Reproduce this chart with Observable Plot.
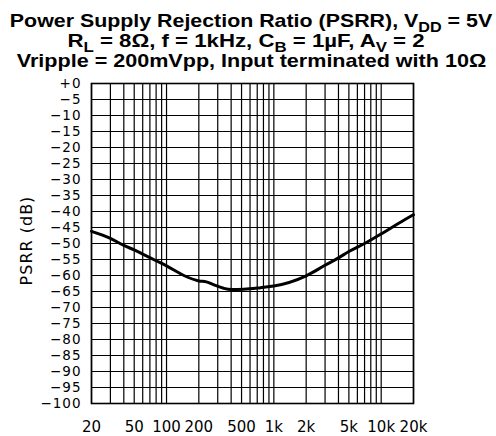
<!DOCTYPE html>
<html><head><meta charset="utf-8">
<script src="https://cdn.jsdelivr.net/npm/d3@7"></script>
<script src="https://cdn.jsdelivr.net/npm/@observablehq/plot@0.6"></script>
<style>
body{margin:0;background:#fff;}
#wrap{width:496px;height:436px;overflow:hidden;}
#title{height:72px;box-sizing:border-box;padding-top:10.5px;font-family:"Liberation Sans",Arial,sans-serif;font-weight:bold;font-size:18.5px;line-height:20px;text-align:center;color:#000;white-space:nowrap;}
#t1{transform:translateX(3px) scaleX(1.155);}
#t2{transform:translateX(-2px) scaleX(1.2);}
#t3{transform:translateX(3.5px) scaleX(1.165);}
.sub{font-size:14px;position:relative;top:5px;line-height:0;}
#chart svg{display:block;}
</style></head>
<body>
<div id="wrap">
<div id="title">
<div id="t1">Power Supply Rejection Ratio (PSRR), V<span class="sub">DD</span> = 5V</div>
<div id="t2">R<span class="sub">L</span> = 8Ω, f = 1kHz, C<span class="sub">B</span> = 1µF, A<span class="sub">V</span> = 2</div>
<div id="t3">Vripple = 200mVpp, Input terminated with 10Ω</div>
</div>
<div id="chart"></div>
</div>
<script>
const freq = [20, 30, 40, 50, 60, 80, 100, 145, 200, 235, 270, 340, 400, 526, 752, 1000, 2000, 3000, 4000, 5000, 7000, 10000, 14700, 20000];
const psrr = [-46.2, -48.4, -50.6, -52, -53.3, -55.4, -57, -60, -61.7, -62, -62.8, -64, -64.4, -64.3, -63.8, -63.3, -60.1, -56.8, -54.5, -52.5, -50, -47, -43.6, -41];

const xGrid = [20,30,40,50,60,70,80,90,100,200,300,400,500,600,700,800,900,1000,2000,3000,4000,5000,6000,7000,8000,9000,10000,20000];
const xTicks = [20,50,100,200,500,1000,2000,5000,10000,20000];
const xTickLabels = ["20","50","100","200","500","1k","2k","5k","10k","20k"];
const yTicks = [0,-5,-10,-15,-20,-25,-30,-35,-40,-45,-50,-55,-60,-65,-70,-75,-80,-85,-90,-95,-100];
const yTickLabels = ["+0","−5","−10","−15","−20","−25","−30","−35","−40","−45","−50","−55","−60","−65","−70","−75","−80","−85","−90","−95","−100"];
const yLabel = "PSRR (dB)";

const data = freq.map((f, i) => ({f, v: psrr[i]}));
const xLabelData = xTicks.map((t, i) => ({t, label: xTickLabels[i]}));

const chart = Plot.plot({
  width: 496,
  height: 364,
  marginTop: 11,
  marginBottom: 33,
  marginLeft: 91,
  marginRight: 83,
  style: {fontFamily: "DejaVu Sans", fontSize: "13.5px", background: "#fff", color: "#000", overflow: "visible", letterSpacing: "1px"},
  x: {type: "log", domain: [20, 20000], axis: null},
  y: {domain: [-100, 0]},
  marks: [
    Plot.ruleX(xGrid, {stroke: "#000", strokeWidth: 1.2, strokeOpacity: 1}),
    Plot.ruleY(yTicks, {stroke: "#000", strokeWidth: 1.2, strokeOpacity: 1}),
    Plot.frame({stroke: "#000", strokeWidth: 1.6}),
    Plot.text(xLabelData, {x: "t", text: "label", frameAnchor: "bottom", lineAnchor: "top", dy: 18, fontSize: 15}),
    Plot.axisY({ticks: yTicks, tickSize: 0, tickPadding: 10, tickFormat: d => yTickLabels[yTicks.indexOf(d)], label: null}),
    Plot.text([yLabel], {text: d => d, frameAnchor: "left", textAnchor: "middle", dx: -65, dy: -3, rotate: -90, fontSize: 16}),
    Plot.line(data, {x: "f", y: "v", stroke: "#000", strokeWidth: 3, curve: "monotone-x"})
  ]
});
// x tick labels (first text mark) use normal letter spacing
const textGroups = chart.querySelectorAll('g[aria-label="text"]');
if (textGroups.length) textGroups[0].style.letterSpacing = "0px";
document.getElementById("chart").appendChild(chart);
</script>
</body></html>
